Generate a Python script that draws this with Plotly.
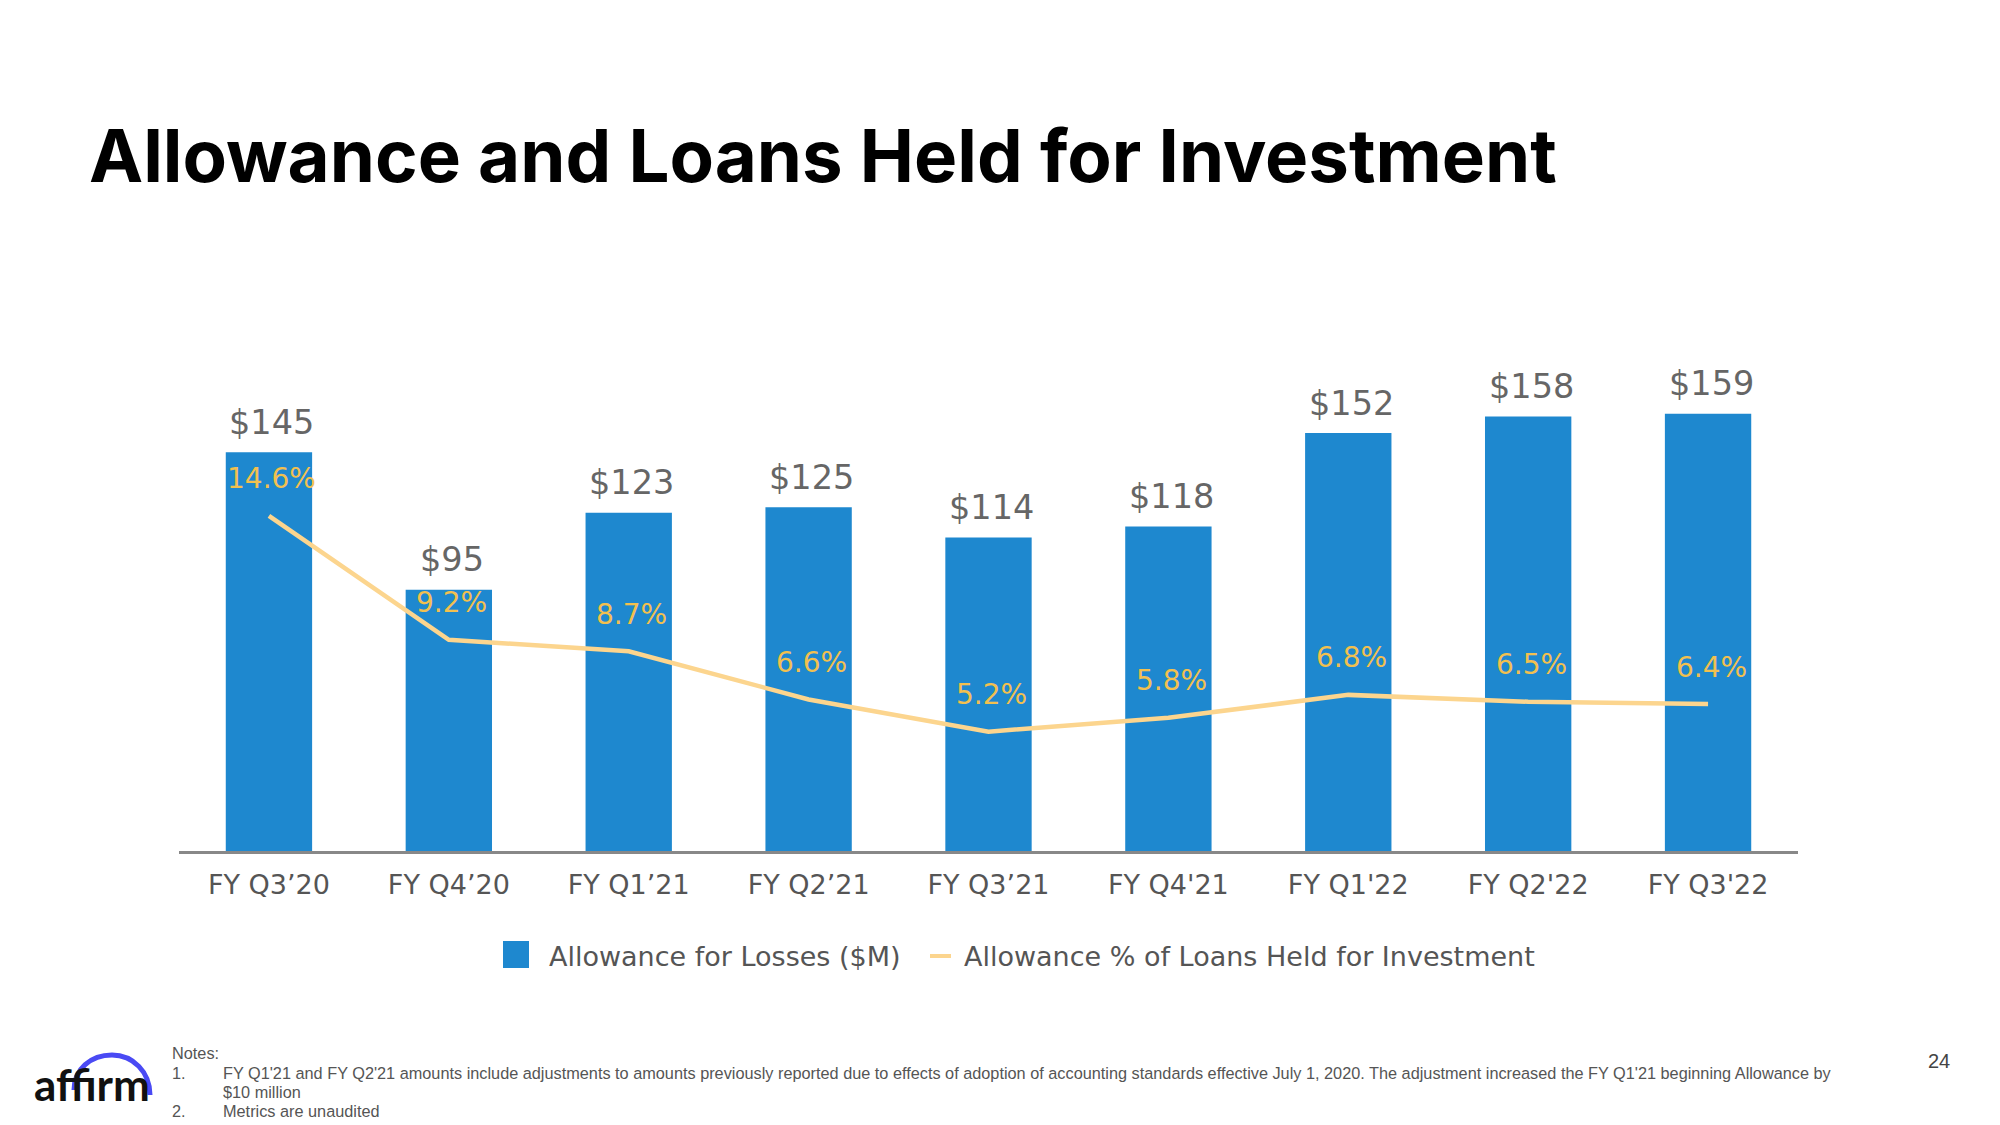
import plotly.graph_objects as go

# ---- data ----
quarters = ["FY Q3’20", "FY Q4’20", "FY Q1’21", "FY Q2’21", "FY Q3’21",
            "FY Q4'21", "FY Q1'22", "FY Q2'22", "FY Q3'22"]
allowance_musd = [145, 95, 123, 125, 114, 118, 152, 158, 159]
allowance_pct = [14.6, 9.2, 8.7, 6.6, 5.2, 5.8, 6.8, 6.5, 6.4]

title_text = "Allowance and Loans Held for Investment"
bar_name = "Allowance for Losses ($M)"
line_name = "Allowance % of Loans Held for Investment"
notes = ["Notes:",
         "FY Q1'21 and FY Q2'21 amounts include adjustments to amounts previously reported due to effects of adoption of accounting standards effective July 1, 2020. The adjustment increased the FY Q1'21 beginning Allowance by",
         "$10 million",
         "Metrics are unaudited"]
page_no = "24"

# ---- style ----
W, H = 2000, 1125
BAR = "#1E88CF"
LINE = "#FCD58E"
PCT_TXT = "#F2C04F"
GRAY_TXT = "#666666"
FONT = "DejaVu Sans"

def px(x):
    return x / W

def py(y):
    return 1 - y / H

fig = go.Figure()
fig.add_trace(go.Bar(x=quarters, y=allowance_musd, name=bar_name,
                     marker=dict(color=BAR, line=dict(width=0)),
                     width=0.48, showlegend=False, hoverinfo="x+y"))
fig.add_trace(go.Scatter(x=quarters, y=allowance_pct, name=line_name, yaxis="y2",
                         mode="lines", line=dict(color=LINE, width=4.5),
                         showlegend=False))

annotations = []
for q, v in zip(quarters, allowance_musd):
    annotations.append(dict(x=q, y=v, xref="x", yref="y", text=f"${v}",
                            showarrow=False, yanchor="middle", yshift=30, xshift=3,
                            font=dict(family=FONT, size=33.5, color=GRAY_TXT)))
for q, v in zip(quarters, allowance_pct):
    annotations.append(dict(x=q, y=v, xref="x", yref="y2", text=f"{v}%",
                            showarrow=False, yanchor="middle", yshift=37, xshift=3,
                            font=dict(family=FONT, size=28, color=PCT_TXT)))

# title
annotations.append(dict(x=px(87), y=py(156), xref="paper", yref="paper",
                        text=title_text, showarrow=False,
                        xanchor="left", yanchor="middle",
                        font=dict(family="Inter", size=72.6, weight=700, color="#000000")))

# legend (manual)
annotations.append(dict(x=px(547), y=py(956), xref="paper", yref="paper",
                        text=bar_name, showarrow=False, xanchor="left", yanchor="middle",
                        font=dict(family=FONT, size=27, color="#555555")))
annotations.append(dict(x=px(962), y=py(956), xref="paper", yref="paper",
                        text=line_name, showarrow=False, xanchor="left", yanchor="middle",
                        font=dict(family=FONT, size=27, color="#555555")))

# notes
NF = dict(family="Liberation Sans", size=16.3, color="#555555")
annotations.append(dict(x=px(170), y=py(1053), xref="paper", yref="paper", text=notes[0],
                        showarrow=False, xanchor="left", yanchor="middle", font=NF))
annotations.append(dict(x=px(170), y=py(1073), xref="paper", yref="paper", text="1.",
                        showarrow=False, xanchor="left", yanchor="middle", font=NF))
annotations.append(dict(x=px(221), y=py(1073), xref="paper", yref="paper", text=notes[1],
                        showarrow=False, xanchor="left", yanchor="middle", font=NF))
annotations.append(dict(x=px(221), y=py(1092), xref="paper", yref="paper", text=notes[2],
                        showarrow=False, xanchor="left", yanchor="middle", font=NF))
annotations.append(dict(x=px(170), y=py(1111), xref="paper", yref="paper", text="2.",
                        showarrow=False, xanchor="left", yanchor="middle", font=NF))
annotations.append(dict(x=px(221), y=py(1111), xref="paper", yref="paper", text=notes[3],
                        showarrow=False, xanchor="left", yanchor="middle", font=NF))
# page number
annotations.append(dict(x=px(1939), y=py(1061), xref="paper", yref="paper", text=page_no,
                        showarrow=False, xanchor="center", yanchor="middle",
                        font=dict(family="Liberation Sans", size=20, color="#444444")))
# logo text
annotations.append(dict(x=px(92), y=py(1084), xref="paper", yref="paper", text="<b>affirm</b>",
                        showarrow=False, xanchor="center", yanchor="middle",
                        font=dict(family="Lato", size=44, color="#111111")))

shapes = [
    # legend swatches
    dict(type="rect", xref="paper", yref="paper", x0=px(503), x1=px(529),
         y0=py(968), y1=py(941), fillcolor=BAR, line=dict(width=0)),
    dict(type="line", xref="paper", yref="paper", x0=px(930), x1=px(951),
         y0=py(956), y1=py(956), line=dict(color=LINE, width=4)),
    # logo arc
    dict(type="path", xref="paper", yref="paper",
         path=(f"M {px(74)},{py(1090)} C {px(74)},{py(1069)} {px(91)},{py(1055)} {px(112)},{py(1055)} "
               f"C {px(133)},{py(1055)} {px(150)},{py(1072)} {px(150)},{py(1095)}"),
         line=dict(color="#4A4AF4", width=5)),
]

fig.update_layout(
    width=W, height=H,
    margin=dict(l=0, r=0, t=0, b=0),
    paper_bgcolor="white", plot_bgcolor="white",
    showlegend=False,
    bargap=0.52,
    xaxis=dict(domain=[px(179), px(1798)], range=[-0.5, 8.5], showgrid=False,
               showline=True, linecolor="#888888", linewidth=2.5, ticks="",
               tickfont=dict(family=FONT, size=27, color="#555555"),
               ticklabelstandoff=8, zeroline=False, fixedrange=True),
    yaxis=dict(domain=[py(851), py(300)], range=[0, 200.4], visible=False,
               showgrid=False, zeroline=False),
    yaxis2=dict(domain=[py(851), py(300)], range=[0, 24.0], overlaying="y",
                side="right", visible=False, showgrid=False, zeroline=False),
    annotations=annotations,
    shapes=shapes,
)

fig.write_html("out.html")
